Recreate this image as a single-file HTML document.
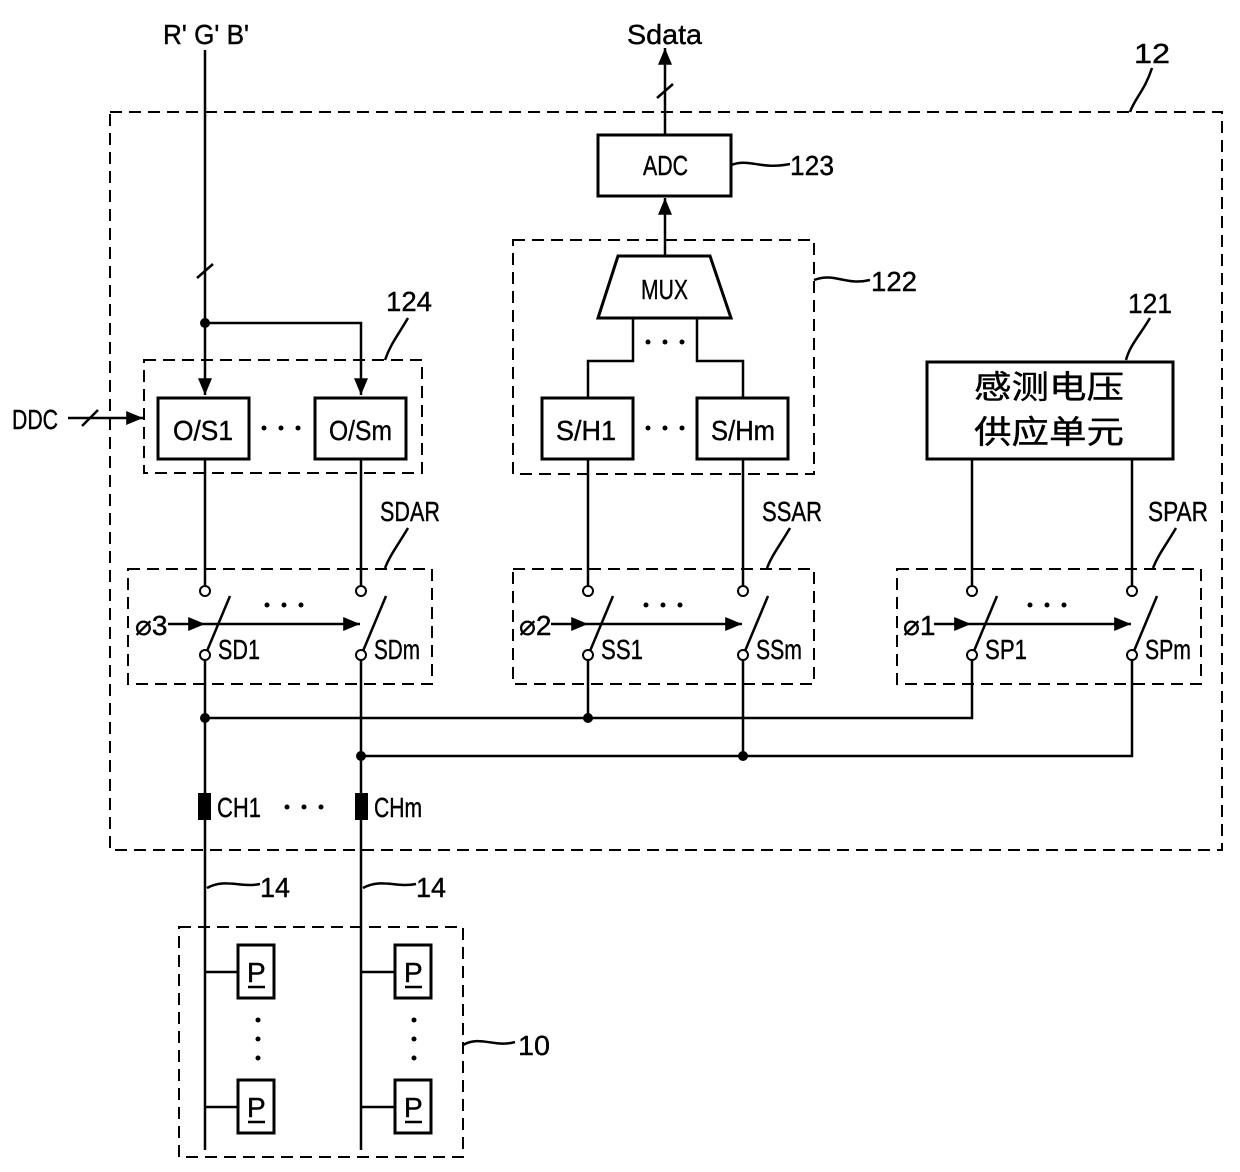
<!DOCTYPE html>
<html><head><meta charset="utf-8"><style>
html,body{margin:0;padding:0;background:#fff}
svg{display:block}
text{font-family:"Liberation Sans","Noto Sans CJK SC",sans-serif;font-size:28px;fill:#000;stroke:#000;stroke-width:0.4}
.d{fill:none;stroke:#000;stroke-width:2;stroke-dasharray:12,7}
.l{fill:none;stroke:#000;stroke-width:2.5}
.b{fill:#fff;stroke:#000;stroke-width:3}
</style></head><body>
<svg width="1240" height="1172" viewBox="0 0 1240 1172" xmlns="http://www.w3.org/2000/svg">
<defs>
<marker id="ar" viewBox="0 0 12 10" markerWidth="18" markerHeight="14" refX="12" refY="5" orient="auto" markerUnits="userSpaceOnUse"><path d="M0,0 L12,5 L0,10z" fill="#000"/></marker>
<g id="dots"><circle cx="0" cy="0" r="2.5"/><circle cx="17" cy="0" r="2.5"/><circle cx="34" cy="0" r="2.5"/></g>
</defs>

<rect class="d" x="110" y="112" width="1112" height="738"/>
<rect class="d" x="144" y="360" width="278" height="113"/>
<rect class="d" x="513" y="240" width="301" height="234"/>
<rect class="d" x="128" y="569" width="304" height="115"/>
<rect class="d" x="513" y="569" width="301" height="115"/>
<rect class="d" x="897" y="569" width="304" height="115"/>
<rect class="d" x="179" y="927" width="284" height="230"/>

<text x="163" y="44" textLength="86" lengthAdjust="spacingAndGlyphs">R' G' B'</text>
<text x="627" y="44" textLength="75" lengthAdjust="spacingAndGlyphs">Sdata</text>
<text x="12" y="429" textLength="46" lengthAdjust="spacingAndGlyphs">DDC</text>

<path class="l" d="M205,50 V395" marker-end="url(#ar)"/>
<path class="l" d="M197,278 L213,264"/>
<circle cx="205" cy="323" r="5"/>
<path class="l" d="M205,323 H361 V395" marker-end="url(#ar)"/>
<path class="l" d="M68,418 H143" marker-end="url(#ar)"/>
<path class="l" d="M82,426 L98,410"/>

<rect class="b" x="158" y="398" width="91" height="61"/>
<text x="173" y="440" textLength="60" lengthAdjust="spacingAndGlyphs">O/S1</text>
<rect class="b" x="315" y="398" width="91" height="61"/>
<text x="329" y="440" textLength="63" lengthAdjust="spacingAndGlyphs">O/Sm</text>
<use href="#dots" x="264" y="428"/>

<rect class="b" x="598" y="135" width="133" height="61"/>
<text x="643" y="175" textLength="45" lengthAdjust="spacingAndGlyphs">ADC</text>
<path class="l" d="M665,135 V48" marker-end="url(#ar)"/>
<path class="l" d="M657,98 L673,84"/>
<path class="l" d="M665,256 V198" marker-end="url(#ar)"/>
<path class="l" d="M731,165 C750,158 760,170 790,164"/>
<text x="790" y="175" textLength="44" lengthAdjust="spacingAndGlyphs">123</text>

<path class="b" d="M618,256 H710 L731,318 H598 Z"/>
<text x="641" y="299" textLength="47" lengthAdjust="spacingAndGlyphs">MUX</text>
<path class="l" d="M633,318 V361 H588 V398 M697,318 V361 H743 V398"/>
<use href="#dots" x="648" y="342"/>
<rect class="b" x="542" y="398" width="91" height="61"/>
<text x="556" y="440" textLength="60" lengthAdjust="spacingAndGlyphs">S/H1</text>
<rect class="b" x="697" y="398" width="91" height="61"/>
<text x="711" y="440" textLength="64" lengthAdjust="spacingAndGlyphs">S/Hm</text>
<use href="#dots" x="648" y="428"/>
<path class="l" d="M814,280 C835,272 845,286 870,280"/>
<text x="871" y="291" textLength="46" lengthAdjust="spacingAndGlyphs">122</text>

<rect class="b" x="927" y="362" width="246" height="97"/>
<text x="974" y="398" style="font-size:32px" textLength="150" lengthAdjust="spacingAndGlyphs">感测电压</text>
<text x="974" y="443" style="font-size:32px" textLength="150" lengthAdjust="spacingAndGlyphs">供应单元</text>
<text x="1128" y="313" textLength="44" lengthAdjust="spacingAndGlyphs">121</text>
<path class="l" d="M1150,318 C1140,335 1130,345 1126,360"/>
<text x="386" y="311" textLength="46" lengthAdjust="spacingAndGlyphs">124</text>
<path class="l" d="M408,318 C398,335 390,345 385,360"/>
<text x="1134" y="63" textLength="36" lengthAdjust="spacingAndGlyphs">12</text>
<path class="l" d="M1152,68 C1145,90 1135,98 1130,112"/>

<path class="l" d="M205,459 V585 M361,459 V585 M588,459 V585 M743,459 V585 M972,459 V585 M1132,459 V585"/>
<text x="380" y="521" textLength="60" lengthAdjust="spacingAndGlyphs">SDAR</text>
<path class="l" d="M408,528 C398,545 390,555 385,568"/>
<text x="762" y="521" textLength="60" lengthAdjust="spacingAndGlyphs">SSAR</text>
<path class="l" d="M790,528 C780,545 772,555 767,568"/>
<text x="1148" y="521" textLength="60" lengthAdjust="spacingAndGlyphs">SPAR</text>
<path class="l" d="M1176,528 C1166,545 1158,555 1153,568"/>

<g fill="#fff" stroke="#000" stroke-width="2">
<circle cx="205" cy="591" r="5"/><circle cx="205" cy="655" r="5"/>
<circle cx="361" cy="591" r="5"/><circle cx="361" cy="655" r="5"/>
<circle cx="588" cy="591" r="5"/><circle cx="588" cy="655" r="5"/>
<circle cx="743" cy="591" r="5"/><circle cx="743" cy="655" r="5"/>
<circle cx="972" cy="591" r="5"/><circle cx="972" cy="655" r="5"/>
<circle cx="1132" cy="591" r="5"/><circle cx="1132" cy="655" r="5"/>
</g>
<path class="l" d="M207,651 L230,596 M363,651 L386,596 M590,651 L613,596 M745,651 L768,596 M974,651 L997,596 M1134,651 L1157,596"/>
<path class="l" d="M168,624 H205" marker-end="url(#ar)"/><path class="l" d="M205,624 H360" marker-end="url(#ar)"/>
<path class="l" d="M551,624 H588" marker-end="url(#ar)"/><path class="l" d="M588,624 H742" marker-end="url(#ar)"/>
<path class="l" d="M934,624 H971" marker-end="url(#ar)"/><path class="l" d="M971,624 H1131" marker-end="url(#ar)"/>
<text x="135" y="635">⌀3</text><text x="519" y="635">⌀2</text><text x="903" y="635">⌀1</text>
<use href="#dots" x="267" y="605"/><use href="#dots" x="646" y="605"/><use href="#dots" x="1030" y="605"/>
<text x="218" y="659" textLength="42" lengthAdjust="spacingAndGlyphs">SD1</text>
<text x="374" y="659" textLength="46" lengthAdjust="spacingAndGlyphs">SDm</text>
<text x="601" y="659" textLength="42" lengthAdjust="spacingAndGlyphs">SS1</text>
<text x="756" y="659" textLength="46" lengthAdjust="spacingAndGlyphs">SSm</text>
<text x="985" y="659" textLength="42" lengthAdjust="spacingAndGlyphs">SP1</text>
<text x="1145" y="659" textLength="46" lengthAdjust="spacingAndGlyphs">SPm</text>

<path class="l" d="M205,660 V1150 M361,660 V1150 M588,660 V718 M743,660 V756 M972,660 V718 H205 M1132,660 V756 H361"/>
<circle cx="205" cy="718" r="5"/><circle cx="588" cy="718" r="5"/>
<circle cx="361" cy="756" r="5"/><circle cx="743" cy="756" r="5"/>
<rect x="198" y="793" width="13" height="27"/><rect x="355" y="793" width="13" height="27"/>
<text x="217" y="817" textLength="44" lengthAdjust="spacingAndGlyphs">CH1</text>
<text x="374" y="817" textLength="48" lengthAdjust="spacingAndGlyphs">CHm</text>
<use href="#dots" x="287" y="807"/>
<path class="l" d="M207,888 C225,878 240,888 260,884 M363,888 C381,878 396,888 416,884"/>
<text x="260" y="897" textLength="30" lengthAdjust="spacingAndGlyphs">14</text>
<text x="416" y="897" textLength="30" lengthAdjust="spacingAndGlyphs">14</text>
<path class="l" d="M463,1045 C480,1035 495,1048 515,1042"/>
<text x="518" y="1055" textLength="32" lengthAdjust="spacingAndGlyphs">10</text>

<path class="l" d="M205,972 H238 M205,1107 H238 M361,972 H395 M361,1107 H395"/>
<rect class="b" x="238" y="945" width="36" height="53"/><rect class="b" x="238" y="1080" width="36" height="53"/>
<rect class="b" x="395" y="945" width="36" height="53"/><rect class="b" x="395" y="1080" width="36" height="53"/>
<text x="247" y="982">P</text><text x="247" y="1117">P</text><text x="404" y="982">P</text><text x="404" y="1117">P</text>
<path class="l" d="M248,987 H265 M248,1122 H265 M405,987 H422 M405,1122 H422"/>
<g><circle cx="258" cy="1020" r="2.5"/><circle cx="258" cy="1039" r="2.5"/><circle cx="258" cy="1058" r="2.5"/>
<circle cx="414" cy="1020" r="2.5"/><circle cx="414" cy="1039" r="2.5"/><circle cx="414" cy="1058" r="2.5"/></g>
</svg>
</body></html>
